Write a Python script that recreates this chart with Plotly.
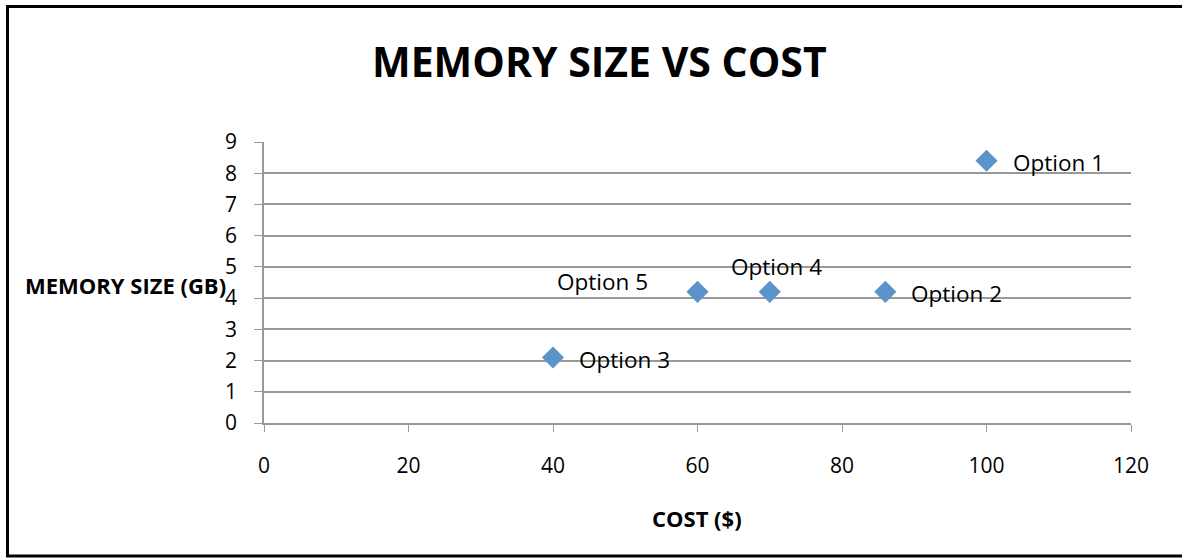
import plotly.graph_objects as go

labels = ["Option 1", "Option 2", "Option 3", "Option 4", "Option 5"]
cost = [100, 86, 40, 70, 60]
memory = [8.4, 4.2, 2.1, 4.2, 4.2]
label_pos = ["right", "right", "right", "top", "topleft"]

x_ticks = [0, 20, 40, 60, 80, 100, 120]
y_ticks = list(range(0, 10))

W, H = 1182, 558
L, R, T, B = 264, 51, 142, 135
PW, PH = W - L - R, H - T - B

FONT = "Open Sans"

fig = go.Figure()
fig.add_trace(go.Scatter(
    x=cost, y=memory, mode="markers",
    marker=dict(symbol="diamond", size=17, color="#5B93CB",
                line=dict(width=0)),
    showlegend=False, hoverinfo="skip",
))

annotations = []
for lab, xv, yv, pos in zip(labels, cost, memory, label_pos):
    if pos == "right":
        a = dict(xanchor="left", yanchor="middle", xshift=24, yshift=-2)
    elif pos == "top":
        a = dict(xanchor="center", yanchor="middle", xshift=7, yshift=25)
    else:
        a = dict(xanchor="right", yanchor="middle", xshift=-48, yshift=10)
    annotations.append(dict(x=xv, y=yv, xref="x", yref="y", text=lab,
                            showarrow=False,
                            font=dict(family=FONT, size=22.5, color="#000"), **a))

def px2x(px):
    return (px - L) / PW

def py2y(py):
    return (H - B - py) / PH

annotations.append(dict(x=px2x(599), y=py2y(61), xref="paper", yref="paper",
                        text="<b>MEMORY SIZE VS COST</b>", showarrow=False,
                        xanchor="center", yanchor="middle",
                        font=dict(family=FONT, size=41, color="#000")))
annotations.append(dict(x=px2x(228), y=py2y(285), xref="paper", yref="paper",
                        text="<b>MEMORY SIZE (GB)</b>", showarrow=False,
                        xanchor="right", yanchor="middle",
                        font=dict(family=FONT, size=22, color="#000")))
annotations.append(dict(x=px2x(697), y=py2y(518), xref="paper", yref="paper",
                        text="<b>COST ($)</b>", showarrow=False,
                        xanchor="center", yanchor="middle",
                        font=dict(family=FONT, size=22, color="#000")))

shapes = [
    dict(type="line", xref="paper", yref="paper", x0=px2x(7.5), x1=px2x(7.5),
         y0=py2y(5), y1=py2y(557), line=dict(color="#000", width=3)),
    dict(type="line", xref="paper", yref="paper", x0=px2x(6), x1=px2x(1185),
         y0=py2y(6.5), y1=py2y(6.5), line=dict(color="#000", width=3)),
    dict(type="line", xref="paper", yref="paper", x0=px2x(6), x1=px2x(1185),
         y0=py2y(556), y1=py2y(556), line=dict(color="#000", width=3)),
]

fig.update_layout(
    width=W, height=H,
    margin=dict(l=L, r=R, t=T, b=B),
    paper_bgcolor="white", plot_bgcolor="white",
    annotations=annotations, shapes=shapes,
    font=dict(family=FONT, color="#000"),
    xaxis=dict(range=[0, 120], tickvals=x_ticks, ticktext=[str(v) for v in x_ticks],
               showgrid=False, zeroline=False, showline=True, linecolor="#999999",
               linewidth=1.5, ticks="outside", ticklen=7, tickcolor="#999999",
               tickfont=dict(family=FONT, size=21, color="#000"),
               ticklabelstandoff=16, fixedrange=True),
    yaxis=dict(range=[0, 9], tickvals=y_ticks, ticktext=[str(v) for v in y_ticks],
               showgrid=True, gridcolor="#999999", gridwidth=1.5,
               zeroline=False, showline=True, linecolor="#999999", linewidth=1.5,
               ticks="outside", ticklen=8, tickcolor="#999999",
               tickfont=dict(family=FONT, size=21, color="#000"),
               ticklabelstandoff=13, fixedrange=True),
)

fig.write_html("out.html")
